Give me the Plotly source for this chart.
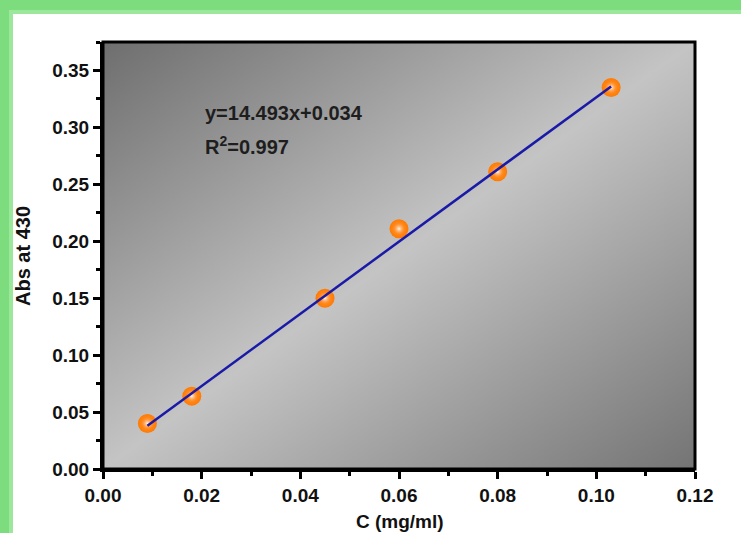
import base64
import plotly.graph_objects as go

# ---- data ----
conc = [0.009, 0.018, 0.045, 0.060, 0.080, 0.103]
absorb = [0.040, 0.064, 0.150, 0.211, 0.261, 0.335]
fit_x = [0.009, 0.103]
fit_y = [0.038, 0.336]
x_ticks = [0.00, 0.02, 0.04, 0.06, 0.08, 0.10, 0.12]
x_tick_labels = ["0.00", "0.02", "0.04", "0.06", "0.08", "0.10", "0.12"]
y_ticks = [0.00, 0.05, 0.10, 0.15, 0.20, 0.25, 0.30, 0.35]
y_tick_labels = ["0.00", "0.05", "0.10", "0.15", "0.20", "0.25", "0.30", "0.35"]
x_title = "C (mg/ml)"
y_title = "Abs at 430"
equation_text = "y=14.493x+0.034"
r2_text = "R<sup>2</sup>=0.997"

W, H = 741, 533
L, R, T, B = 103, 695, 42, 469
PW, PH = R - L, B - T

def px(x):
    return (x - L) / PW

def py(y):
    return (B - y) / PH

FONT = "Liberation Sans, Arial, sans-serif"

fig = go.Figure()
fig.add_trace(go.Scatter(x=conc, y=absorb, mode="markers",
                         marker=dict(size=19, color="#ff7a00",
                                     gradient=dict(type="radial", color="#ff9a40"),
                                     line=dict(width=0)),
                         showlegend=False))
fig.add_trace(go.Scatter(x=conc, y=absorb, mode="markers",
                         marker=dict(size=12, color="rgba(255,150,60,0)",
                                     gradient=dict(type="radial", color="#fff6ec"),
                                     line=dict(width=0)),
                         hoverinfo="skip", showlegend=False))
fig.add_trace(go.Scatter(x=fit_x, y=fit_y, mode="lines",
                         line=dict(color="#1a1aa8", width=2.5),
                         hoverinfo="skip", showlegend=False))

# gradient background via SVG image
svg = f'''<svg xmlns="http://www.w3.org/2000/svg" width="{PW}" height="{PH}">
<defs><linearGradient id="g" x1="0" y1="0" x2="1" y2="1">
<stop offset="0" stop-color="#6e6e6e"/>
<stop offset="0.5" stop-color="#c4c4c4"/>
<stop offset="1" stop-color="#747474"/>
</linearGradient></defs>
<rect width="{PW}" height="{PH}" fill="url(#g)"/></svg>'''
uri = "data:image/svg+xml;base64," + base64.b64encode(svg.encode()).decode()
fig.add_layout_image(dict(source=uri, xref="paper", yref="paper", x=0, y=1,
                          sizex=1, sizey=1, sizing="stretch", layer="below"))

# green frame (left and top strips)
shapes = [
    dict(type="rect", xref="paper", yref="paper", x0=px(0), x1=px(13), y0=py(H), y1=py(0),
         fillcolor="#7ddc7d", line=dict(width=0), layer="below"),
    dict(type="rect", xref="paper", yref="paper", x0=px(0), x1=px(W), y0=py(14), y1=py(0),
         fillcolor="#7ddc7d", line=dict(width=0), layer="below"),
    dict(type="rect", xref="paper", yref="paper", x0=px(9), x1=px(13), y0=py(H), y1=py(10),
         fillcolor="#9be79b", line=dict(width=0), layer="below"),
    dict(type="rect", xref="paper", yref="paper", x0=px(9), x1=px(W), y0=py(14), y1=py(10),
         fillcolor="#9be79b", line=dict(width=0), layer="below"),
    dict(type="rect", xref="paper", yref="paper", x0=0, x1=1, y0=0, y1=1,
         line=dict(color="black", width=3), fillcolor="rgba(0,0,0,0)"),
]

ann_font = dict(family=FONT, size=20, color="#1e1e1e", weight="bold")
fig.add_annotation(x=px(203), y=py(113), xref="paper", yref="paper", text=equation_text,
                   showarrow=False, xanchor="left", yanchor="middle", font=ann_font)
fig.add_annotation(x=px(203), y=py(145), xref="paper", yref="paper", text=r2_text,
                   showarrow=False, xanchor="left", yanchor="middle", font=ann_font)
fig.add_annotation(x=px(400), y=py(521), xref="paper", yref="paper", text=x_title,
                   showarrow=False, xanchor="center", yanchor="middle",
                   font=dict(family=FONT, size=19, color="#111", weight="bold"))
fig.add_annotation(x=px(23), y=py(256), xref="paper", yref="paper", text=y_title,
                   showarrow=False, xanchor="center", yanchor="middle", textangle=-90,
                   font=dict(family=FONT, size=20, color="#111", weight="bold"))

axis_common = dict(showgrid=False, zeroline=False, showline=True, linecolor="black",
                   linewidth=3, ticks="outside", ticklen=7, tickwidth=3, tickcolor="black",
                   tickfont=dict(family=FONT, size=19, color="#111", weight="bold"),
                   mirror=False, automargin=False)
fig.update_layout(
    width=W, height=H,
    margin=dict(l=L, r=W - R, t=T, b=H - B, pad=0, autoexpand=False),
    paper_bgcolor="white", plot_bgcolor="rgba(0,0,0,0)",
    shapes=shapes,
    xaxis=dict(range=[0, 0.12], tickvals=x_ticks, ticktext=x_tick_labels,
               minor=dict(ticks="outside", ticklen=4, tickwidth=3, tickcolor="black", dtick=0.01, tick0=0),
               **axis_common),
    yaxis=dict(range=[0, 0.375], tickvals=y_ticks, ticktext=y_tick_labels,
               minor=dict(ticks="outside", ticklen=4, tickwidth=3, tickcolor="black", dtick=0.025, tick0=0),
               **axis_common),
)

fig.write_html("out.html", config={"displayModeBar": False},
               post_script="document.body.style.margin='0';document.body.style.padding='0';")
